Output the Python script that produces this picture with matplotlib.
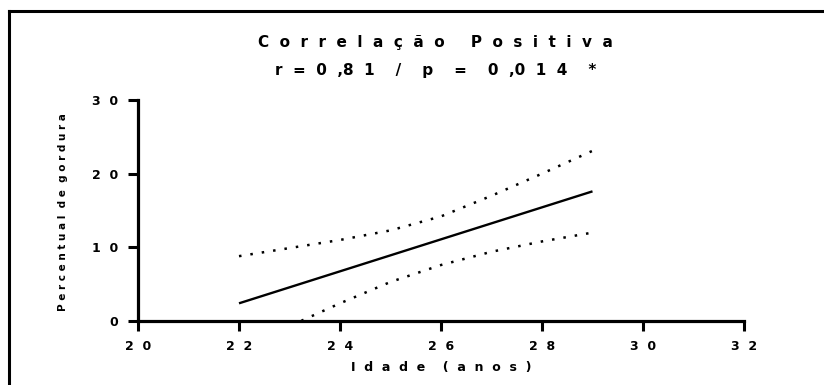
import matplotlib
matplotlib.use("Agg")
import matplotlib.pyplot as plt
from matplotlib.lines import Line2D

# regression line and 95% band
age_fit = [22, 29]
fat_fit = [2.4, 17.6]
band_age = [22, 23, 24, 25, 26, 27, 28, 29]
band_upper = [8.8, 9.9, 11.0, 12.3, 14.2, 17.0, 20.0, 23.1]
band_lower = [-4.0, -0.7, 2.4, 5.3, 7.6, 9.4, 10.8, 12.0]

x_ticks = [20, 22, 24, 26, 28, 30, 32]
y_ticks = [0, 10, 20, 30]

title_1 = "Correlação Positiva"
title_2 = "r  =  0  ,8  1    /    p    =    0  ,0  1  4    *"
x_label = "Idade (anos)"
y_label = "Percentual de gordura"


def spaced(text, gap="  ", word="    "):
    return word.join(gap.join(w) for w in text.split(" "))


plt.rcParams["font.family"] = "DejaVu Sans"
plt.rcParams["font.weight"] = "bold"

fig = plt.figure(figsize=(8.24, 3.85), dpi=100)
ax = fig.add_axes([138 / 824, 64 / 385, 606 / 824, 221 / 385])

ax.plot(age_fit, fat_fit, color="black", lw=1.7, solid_capstyle="butt")
ax.plot(band_age, band_upper, color="black", lw=1.8, linestyle=(0, (1, 3.6)),
        dash_capstyle="butt")
ax.plot(band_age, band_lower, color="black", lw=1.8, linestyle=(0, (1, 3.6)),
        dash_capstyle="butt")

ax.set_xlim(20, 32)
ax.set_ylim(0, 30)
ax.set_xticks(x_ticks)
ax.set_yticks(y_ticks)
ax.set_xticklabels([spaced(str(t)) for t in x_ticks])
ax.set_yticklabels([spaced(str(t)) for t in y_ticks])
ax.tick_params(axis="both", width=2.2, length=7, pad=7, labelsize=9)
for side in ["top", "right"]:
    ax.spines[side].set_visible(False)
for side in ["left", "bottom"]:
    ax.spines[side].set_linewidth(2.3)
    ax.spines[side].set_capstyle("projecting")

fig.text(0.529, 1 - 43 / 385, spaced(title_1, word="     "), ha="center",
         va="center", fontsize=11, fontweight="bold")
fig.text(0.529, 1 - 70 / 385, title_2, ha="center", va="center",
         fontsize=11, fontweight="bold")
fig.text(441 / 824, 18 / 385, spaced(x_label), ha="center", va="center",
         fontsize=9, fontweight="bold")
fig.text(63 / 824, 1 - 212 / 385, spaced(y_label, gap=" ", word="  "),
         ha="center", va="center", rotation=90, fontsize=7.5, fontweight="bold")

# frame lines round the figure (top and left only)
top = 1 - 11 / 385
left = 8.5 / 824
fig.add_artist(Line2D([left, 1], [top, top], color="black", lw=2.2,
                      transform=fig.transFigure, solid_capstyle="projecting"))
fig.add_artist(Line2D([left, left], [0, top], color="black", lw=2.2,
                      transform=fig.transFigure, solid_capstyle="projecting"))

plt.savefig("out.png", dpi=100, facecolor="white")
